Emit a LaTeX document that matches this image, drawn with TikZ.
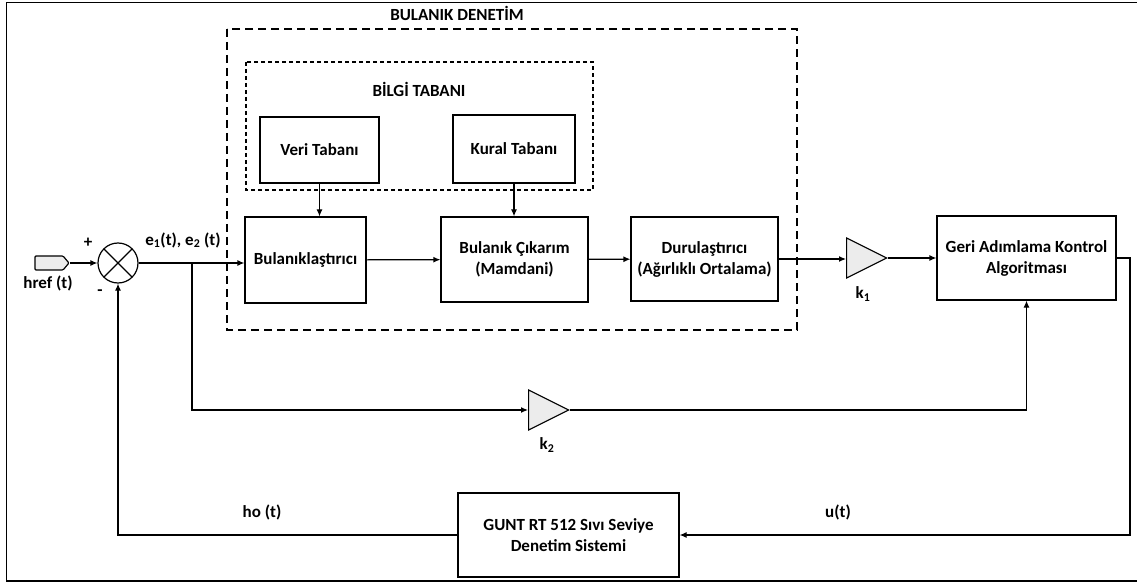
\documentclass[tikz,border=0pt]{standalone}
\usepackage{fontspec}
\setmainfont{Carlito}
\usepackage{tikz}
\usetikzlibrary{shapes}
\usetikzlibrary{arrows,arrows.meta}
\usetikzlibrary{shapes.geometric}
\usetikzlibrary{shapes.symbols}
\usetikzlibrary{positioning}
\tikzstyle{blok}=[draw, line width=1.2pt, align=center, inner sep=2pt]
\tikzstyle{kazanc}=[draw, line width=1.2pt, fill=gray!15, isosceles triangle,
  isosceles triangle stretches, minimum width=40pt, minimum height=40pt,
  inner sep=0pt, anchor=west]
\tikzstyle{toplam}=[draw, line width=1.2pt, circle, minimum size=40pt,
  inner sep=0pt, path picture={
    \draw[line width=1.2pt] (path picture bounding box.north west) -- (path picture bounding box.south east);
    \draw[line width=1.2pt] (path picture bounding box.south west) -- (path picture bounding box.north east);}]
\tikzstyle{giris}=[draw, line width=1.2pt, fill=gray!15, signal, signal to=east,
  signal pointer angle=100, minimum width=34pt, minimum height=14pt,
  inner sep=0pt, rounded corners=1pt]
\tikzstyle{line}=[draw, line width=1.2pt, -{Latex[length=7pt,width=6pt]}]
\tikzstyle{kesik}=[draw, line width=1.2pt, dash pattern=on 8pt off 5pt]
\tikzstyle{kesikince}=[draw, line width=1.2pt, dash pattern=on 4pt off 3pt]
\newcommand{\blok}[4]{node (#1) [blok, minimum width=#2pt,
  minimum height=#3pt] {#4}}

\begin{document}
\begin{tikzpicture}[x=1pt,y=-1pt,font=\fontsize{17}{21}\selectfont\bfseries]
    \useasboundingbox (0,0) rectangle (1137,585);
    \draw[line width=1.5pt] (1137,2.5) -- (6.5,2.5) -- (6.5,581) -- (1137,581);

    % Draw diagram elements
    \path (49,263) node (href) [giris] {};
    \path (118,263) node (sum) [toplam] {};
    \path (305.5,260) \blok{bul}{121}{86}{Bulanıklaştırıcı};
    \path (514.5,259.5) \blok{cik}{147}{85}{Bulanık Çıkarım\\(Mamdani)};
    \path (704.5,259) \blok{dur}{147}{84}{Durulaştırıcı\\(Ağırlıklı Ortalama)};
    \path (319.5,150) \blok{veri}{119}{66}{Veri Tabanı};
    \path (514,149) \blok{kural}{122}{68}{Kural Tabanı};
    \path (846,258) node (k1) [kazanc] {};
    \path (1026.5,258) \blok{geri}{179}{84}{Geri Adımlama Kontrol\\Algoritması};
    \path (528,410) node (k2) [kazanc] {};
    \path (568.5,535) \blok{gunt}{221}{84}{GUNT RT 512 Sıvı Seviye\\Denetim Sistemi};
    \coordinate (dal) at (192,263);
    \coordinate (sag) at (1130,258);

    % Draw dashed groups
    \path[kesik] (227,29) rectangle (797,330);
    \path[kesikince] (246,62) rectangle (593,190);
    \node (bulden) at (457,13) {BULANIK DENETİM};
    \node (bilgi) at (419,89) {BİLGİ TABANI};

    % Draw labels
    \node (arti) at (88,243) {+};
    \node (eksi) at (100,293) {-};
    \node (hreft) at (48,283) {href (t)};
    \node (et) at (183,240) {e\textsubscript{1}(t), e\textsubscript{2} (t)};
    \node (k1t) at (863,294) {k\textsubscript{1}};
    \node (k2t) at (547,445) {k\textsubscript{2}};
    \node (hot) at (262,512) {ho (t)};
    \node (ut) at (838,512) {u(t)};

    % Draw arrows between elements
    \path [line] (href) -- (sum);
    \path [line] (sum.east) -- (sum.east -| bul.west);
    \path [line] (dal) -- (192,410) -- (k2.west);
    \path [line] (bul) -- (cik);
    \path [line] (cik) -- (dur);
    \path [line] (dur.east) -- (dur.east -| k1.west);
    \path [line] (k1.east) -- (geri.west);
    \path [line] (veri.south) -- (veri.south |- bul.north);
    \path [line] (kural.south) -- (kural.south |- cik.north);
    \path [line] (k2.east) -| (geri.south);
    \path [line] (geri.east) -- (sag) |- (gunt.east);
    \path [line] (gunt.west) -| (sum.south);
\end{tikzpicture}
\end{document}
